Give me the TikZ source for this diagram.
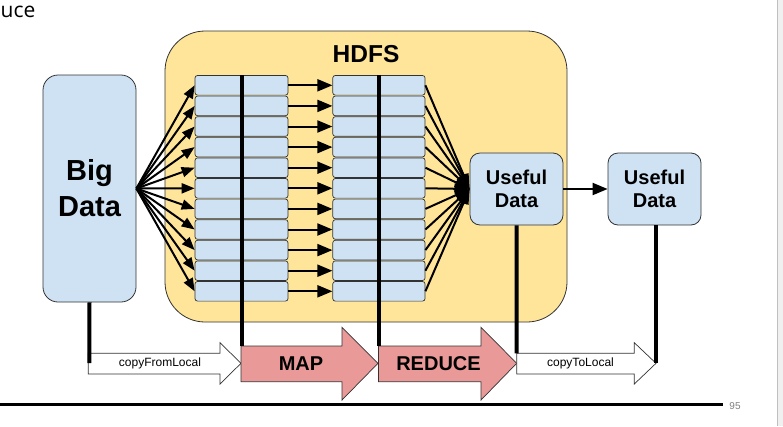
\documentclass[tikz,border=0pt]{standalone}
\usepackage{fontspec}
\setmainfont{Liberation Sans}
\newfontfamily\uifont{Open Sans}
\usetikzlibrary{arrows.meta}
\definecolor{hdfsfill}{HTML}{FFE599}
\definecolor{boxblue}{HTML}{CFE2F3}
\definecolor{pinkfill}{HTML}{EA9999}
\definecolor{edgecol}{HTML}{333333}
\tikzset{
  hdfsbox/.style={draw=edgecol, line width=0.8pt, fill=hdfsfill, rounded corners=40pt, inner sep=0pt},
  bluebox/.style={draw=edgecol, line width=0.8pt, fill=boxblue, inner sep=0pt, align=center},
  rowbox/.style={draw=edgecol, line width=0.7pt, fill=boxblue, rounded corners=2.5pt, inner sep=0pt, minimum height=19.6pt},
  fanarrow/.style={line width=2pt, -{Triangle[length=13pt,width=10pt]}},
  midarrow/.style={line width=2pt, -{Triangle[length=15pt,width=12pt]}},
  inarrow/.style={line width=2pt, -{Triangle[length=15pt,width=10pt]}},
  blockarrow/.style={draw=edgecol, line width=0.7pt},
  thickline/.style={line width=4pt, black},
  smalllabel/.style={inner sep=0pt, font=\fontsize{12}{14}\selectfont},
  biglabel/.style={inner sep=0pt, font=\bfseries\fontsize{20}{23}\selectfont},
}
\begin{document}
\begin{tikzpicture}[x=1pt,y=-1pt]
\useasboundingbox (0,0) rectangle (783,426);
\fill[white] (0,0) rectangle (783,426);
% right panel edge
\fill[black!6] (777,0) rectangle (783,426);
\draw[black!25, line width=1.2pt] (777.6,0) -- (777.6,426);
% title fragment
\node[anchor=base west, inner sep=0pt, font=\uifont\fontsize{21}{24}\selectfont] (title) at (0.5,17) {uce};

% HDFS container
\node[hdfsbox, minimum width=402pt, minimum height=291pt] (hdfs) at (366,176.5) {};
\node[inner sep=0pt, font=\bfseries\fontsize{24.5}{28}\selectfont] (hdfslabel) at (366,54.5) {HDFS};

% Big Data
\node[bluebox, rounded corners=15pt, minimum width=93pt, minimum height=227pt,
      font=\bfseries\fontsize{29}{36}\selectfont] (big) at (89.5,188.5) {Big\\Data};

% Useful Data boxes
\node[bluebox, rounded corners=10pt, minimum width=93pt, minimum height=72pt,
      font=\bfseries\fontsize{20}{23}\selectfont] (u1) at (516.5,189) {Useful\\Data};
\node[bluebox, rounded corners=10pt, minimum width=93pt, minimum height=72pt,
      font=\bfseries\fontsize{20}{23}\selectfont] (u2) at (654.5,189) {Useful\\Data};

% rows
\foreach \i in {0,...,10}{
  \pgfmathsetmacro{\yc}{85.3+20.6*\i}
  \node[rowbox, minimum width=93pt] (a\i) at (241.5,\yc) {};
  \node[rowbox, minimum width=92.3pt] (b\i) at (378.9,\yc) {};
}

% fan out, middle and fan in arrows
\foreach \i in {0,...,10}{
  \draw[fanarrow] (big.east) -- (a\i.west);
  \draw[midarrow] (a\i.east) -- (b\i.west);
  \draw[inarrow] (b\i.east) -- (u1.west);
}
\draw[line width=2pt, -{Triangle[length=15pt,width=12pt]}] (u1.east) -- (u2.west);

% block arrows
\draw[blockarrow, fill=white] (88.3,353.3) -- (220,353.3) -- (220,342.7) -- (241,363.3) -- (220,384) -- (220,374) -- (88.3,374) -- cycle;
\draw[blockarrow, fill=pinkfill] (241,346) -- (342,346) -- (342,327.3) -- (378,363.3) -- (342,400) -- (342,381.7) -- (241,381.7) -- cycle;
\draw[blockarrow, fill=pinkfill] (378.5,346) -- (481,346) -- (481,327.3) -- (516.7,363.3) -- (481,400) -- (481,381.7) -- (378.5,381.7) -- cycle;
\draw[blockarrow, fill=white] (516.7,353.3) -- (634.3,353.3) -- (634.3,342.7) -- (656,363.3) -- (634.3,384) -- (634.3,374) -- (516.7,374) -- cycle;

\node[smalllabel] (cfl) at (160,363.5) {copyFromLocal};
\node[biglabel] (map) at (301,363.5) {MAP};
\node[biglabel] (reduce) at (438.5,363.5) {REDUCE};
\node[smalllabel] (ctl) at (580.5,363.5) {copyToLocal};

% vertical connector lines
\coordinate (cflend) at (89.3,363);
\coordinate (mapend) at (241.5,346);
\coordinate (redend) at (379,346);
\coordinate (ctlstart) at (516.7,353.3);
\coordinate (ctlend) at (655.5,363.3);
\draw[thickline] (big.south) -- (cflend);
\draw[thickline] (a0.north) -- (mapend);
\draw[thickline] (379,75) -- (redend);
\draw[thickline] (u1.south) -- (ctlstart);
\draw[thickline] (u2.south -| ctlend) -- (ctlend);

% footer
\coordinate (footl) at (0,404);
\coordinate (footr) at (723,404);
\draw[line width=3pt] (footl) -- (footr);
\node[inner sep=0pt, text=black!50, font=\fontsize{10}{12}\selectfont] (page) at (735,406) {95};
\end{tikzpicture}
\end{document}
